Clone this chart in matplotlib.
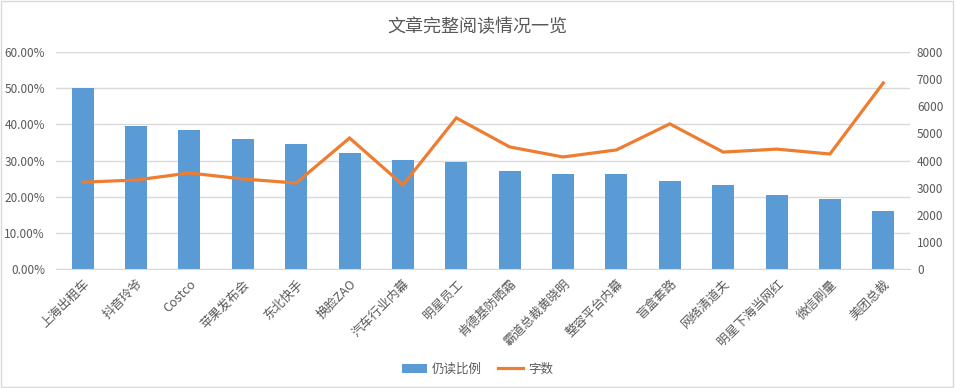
import matplotlib
matplotlib.use("Agg")
import matplotlib.pyplot as plt
from matplotlib.ticker import PercentFormatter, MultipleLocator

plt.rcParams['font.family'] = ['Noto Sans CJK SC', 'DejaVu Sans']

categories = ['上海出租车', '抖音玲爷', 'Costco', '苹果发布会', '东北快手', '换脸ZAO',
              '汽车行业内幕', '明星员工', '肯德基防晒霜', '霸道总裁黄晓明', '整容平台内幕',
              '盲盒套路', '网络清道夫', '明星下海当网红', '微信刷量', '美团总裁']
read_ratio = [50.0, 39.5, 38.4, 35.9, 34.6, 32.1, 30.1, 29.6,
              27.1, 26.3, 26.3, 24.3, 23.2, 20.5, 19.4, 16.0]
word_count = [3200, 3280, 3540, 3320, 3170, 4830, 3100, 5570,
              4500, 4130, 4390, 5350, 4310, 4420, 4240, 6860]

text_color = '#595959'
grid_color = '#d9d9d9'

fig = plt.figure(figsize=(9.55, 3.88), dpi=100)
ax = fig.add_axes([56 / 955, 1 - 269 / 388, (910 - 56) / 955, (269 - 52) / 388])
ax2 = ax.twinx()

x = list(range(len(categories)))
bars = ax.bar(x, read_ratio, width=0.41, color='#5B9BD5', label='仍读比例', zorder=2)
line, = ax2.plot(x, word_count, color='#ED7D31', lw=2.3, label='字数',
                 solid_joinstyle='miter', zorder=3)

ax.set_xlim(-0.5, len(categories) - 0.5)
ax.set_ylim(0, 60)
ax.yaxis.set_major_locator(MultipleLocator(10))
ax.yaxis.set_major_formatter(PercentFormatter(decimals=2))
ax2.set_ylim(0, 8000)
ax2.yaxis.set_major_locator(MultipleLocator(1000))

ax.grid(axis='y', color=grid_color, lw=1, zorder=0)
ax.set_axisbelow(True)
for a in (ax, ax2):
    for s in a.spines.values():
        s.set_visible(False)
    a.tick_params(length=0, colors=text_color, labelsize=8.5)
ax.spines['bottom'].set_visible(True)
ax.spines['bottom'].set_color(grid_color)

ax.set_xticks(x)
ax.set_xticklabels(categories, rotation=45, ha='right', rotation_mode='anchor',
                   fontsize=9, color=text_color)
ax.tick_params(axis='x', pad=6)
ax.tick_params(axis='y', pad=8)
ax2.tick_params(axis='y', pad=5)

# line drawn above bars
ax.set_zorder(ax2.get_zorder() - 1)
ax.patch.set_visible(False)

fig.text(0.5, 1 - 27 / 388, '文章完整阅读情况一览', ha='center', va='center',
         fontsize=13, color=text_color)

fig.legend([bars, line], ['仍读比例', '字数'], loc='center', ncol=2,
           bbox_to_anchor=(0.5, 1 - 369 / 388), frameon=False,
           fontsize=9, labelcolor=text_color, handlelength=2.0, columnspacing=1.3,
           handletextpad=0.4)

fig.patches.append(plt.Rectangle((0.001, 0.002), 0.997, 0.996, transform=fig.transFigure,
                                 fill=False, edgecolor='#d9d9d9', lw=1))

fig.savefig('out.png', dpi=100)
